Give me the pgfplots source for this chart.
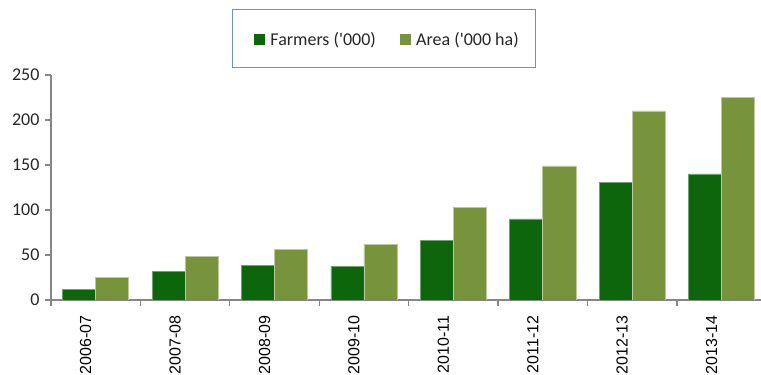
\documentclass[border=0pt]{standalone}
\usepackage{pgfplots}
\pgfplotsset{compat=1.18}
\usepackage{fontspec}
\setmainfont{Carlito}
\newfontfamily\labelfont{Liberation Sans}

\definecolor{farmgreen}{RGB}{13,102,11}
\definecolor{areagreen}{RGB}{119,147,60}
\definecolor{axisgray}{RGB}{134,134,134}
\definecolor{legblue}{RGB}{110,145,205}

\begin{document}
\begin{tikzpicture}
\path[use as bounding box] (0,0) rectangle (761bp,375bp);
% frame around the legend
\draw[legblue, line width=1bp] (232.5bp,365bp) rectangle (535bp,307.5bp);
\begin{axis}[
  at={(51bp,75bp)}, anchor=south west,
  scale only axis, width=710bp, height=225bp,
  xmin=-0.5, xmax=7.44, ymin=0, ymax=250,
  axis x line*=bottom, axis y line*=left,
  axis line style={axisgray, line width=1.3bp, -},
  ytick={0,50,...,250},
  major tick length=6bp, tick align=outside,
  tick style={axisgray, line width=1.3bp},
  xtick={-0.5,0.5,1.5,2.5,3.5,4.5,5.5,6.5}, xticklabels={},
  extra x ticks={0,1,2,3,4,5,6,7},
  extra x tick labels={2006-07,2007-08,2008-09,2009-10,2010-11,2011-12,2012-13,2013-14},
  extra x tick style={tick style={draw=none},
    tick label style={font=\labelfont\fontsize{16bp}{18bp}\selectfont,
      xshift=-10bp, yshift=-6bp, rotate=90, anchor=east}},
  /pgf/number format/assume math mode=true,
  yticklabel style={font=\fontsize{18bp}{20bp}\selectfont, text=black!85, xshift=-2bp},
  ybar, bar width=0.37,
  legend columns=2,
  legend style={draw=none, fill=none, at={(0.4724,1.1587)}, anchor=center,
    font=\fontsize{18bp}{20bp}\selectfont, text=black!85,
    nodes={inner sep=0pt},
    /tikz/every odd column/.append style={column sep=5.7bp},
    /tikz/every even column/.append style={column sep=24bp}},
]
\addplot[fill=farmgreen, draw=farmgreen!60!white, line width=0.7bp, bar shift=-0.185,
  legend image code/.code={\fill[farmgreen] (0bp,-5bp) rectangle (10bp,5bp);}]
  coordinates {(0,12) (1,31.5) (2,38) (3,37.5) (4,66) (5,90) (6,131) (7,140)};
\addlegendentry{Farmers (\textquotesingle 000)}
\addplot[fill=areagreen, draw=areagreen!50!white, line width=0.7bp, bar shift=0.185,
  legend image code/.code={\fill[areagreen] (0bp,-5bp) rectangle (10bp,5bp);}]
  coordinates {(0,25) (1,48.5) (2,56.5) (3,62) (4,103) (5,149) (6,210) (7,225)};
\addlegendentry{Area (\textquotesingle 000 ha)}
\end{axis}
\end{tikzpicture}
\end{document}
